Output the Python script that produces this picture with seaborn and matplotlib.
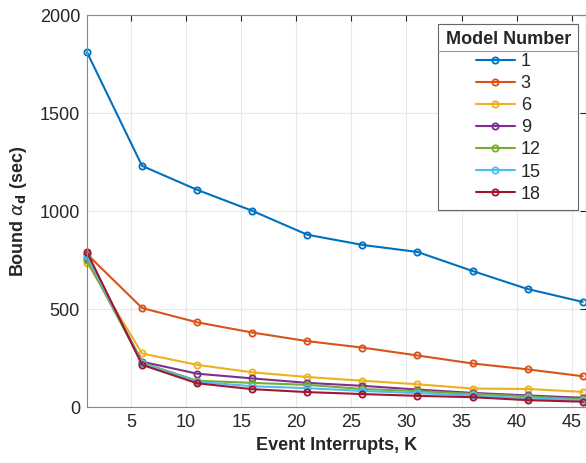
import pandas as pd
import matplotlib.pyplot as plt
import seaborn as sns
from matplotlib.lines import Line2D

# Data
interrupts = [1, 6, 11, 16, 21, 26, 31, 36, 41, 46]
model_1 = [1810, 1230, 1108, 1001, 879, 827, 791, 694, 602, 536]
model_3 = [780, 505, 432, 380, 336, 303, 263, 222, 192, 157]
model_6 = [737, 273, 215, 177, 153, 134, 116, 94, 92, 77]
model_9 = [760, 231, 170, 146, 123, 108, 89, 72, 59, 47]
model_12 = [750, 226, 134, 123, 113, 92, 81, 67, 54, 40]
model_15 = [770, 222, 129, 106, 96, 82, 71, 59, 44, 35]
model_18 = [790, 215, 121, 91, 76, 66, 57, 50, 35, 27]

models = ["1", "3", "6", "9", "12", "15", "18"]
series = [model_1, model_3, model_6, model_9, model_12, model_15, model_18]
colors = ["#0072BD", "#D95319", "#EDB120", "#7E2F8E", "#77AC30", "#4DBEEE", "#A2142F"]

rows = []
for m, vals in zip(models, series):
    for k, v in zip(interrupts, vals):
        rows.append({"K": k, "bound": v, "model": m})
df = pd.DataFrame(rows)

sns.set_style("white")
plt.rcParams["font.family"] = ["Liberation Sans", "DejaVu Sans"]

fig = plt.figure(figsize=(5.86, 4.63), dpi=100)
ax = fig.add_axes([87 / 586, 56 / 463, 499 / 586, 392 / 463])

sns.lineplot(data=df, x="K", y="bound", hue="model", hue_order=models,
             palette=colors, marker="o", linewidth=1.5, markersize=4.5,
             legend=False, ax=ax)

# open circles in line colour, like MATLAB
for line in ax.lines:
    line.set_markerfacecolor("none")
    line.set_markeredgecolor(line.get_color())
    line.set_markeredgewidth(1.3)
    line.set_clip_on(False)

ax.set_xlim(1, 46.3)
ax.set_ylim(0, 2000)
ax.set_xticks([5, 10, 15, 20, 25, 30, 35, 40, 45])
ax.set_yticks([0, 500, 1000, 1500, 2000])
ax.grid(True, color="#e8e8e8", linewidth=0.8)
ax.tick_params(direction="in", length=4, top=True, right=True,
               labelsize=13, colors="#262626", pad=5)
for s in ax.spines.values():
    s.set_color("#888888")
    s.set_linewidth(0.8)

ax.set_xlabel("Event Interrupts, K", fontsize=13, fontweight="bold", color="#262626")
ax.set_ylabel(r"Bound $\alpha_{\mathbf{d}}$ (sec)", fontsize=13, fontweight="bold",
              color="#262626", labelpad=8)

handles = [Line2D([], [], color=c, linewidth=1.5, marker="o", markersize=4.5,
                  markerfacecolor="none", markeredgecolor=c, markeredgewidth=1.3)
           for c in colors]
leg = ax.legend(handles, models, title="Model Number", loc="upper right",
                bbox_to_anchor=((578 - 87) / 499, (407 - 24) / 392),
                borderaxespad=0, fontsize=13, alignment="center",
                title_fontproperties={"weight": "bold", "size": 13},
                fancybox=False, framealpha=1, edgecolor="#666666",
                handlelength=2.2, labelspacing=0.28, borderpad=0.4,
                handletextpad=0.3)
leg.get_frame().set_linewidth(0.8)

# separator line under the legend title
fig.canvas.draw()
inv = fig.transFigure.inverted()
fb = leg.get_frame().get_window_extent()
tb = leg.get_title().get_window_extent()
y = tb.y0 - 3
(x0, yy), (x1, _) = inv.transform([(fb.x0, y), (fb.x1, y)])
fig.add_artist(Line2D([x0, x1], [yy, yy], color="#999999", linewidth=0.8))

fig.savefig("out.png", dpi=100)
